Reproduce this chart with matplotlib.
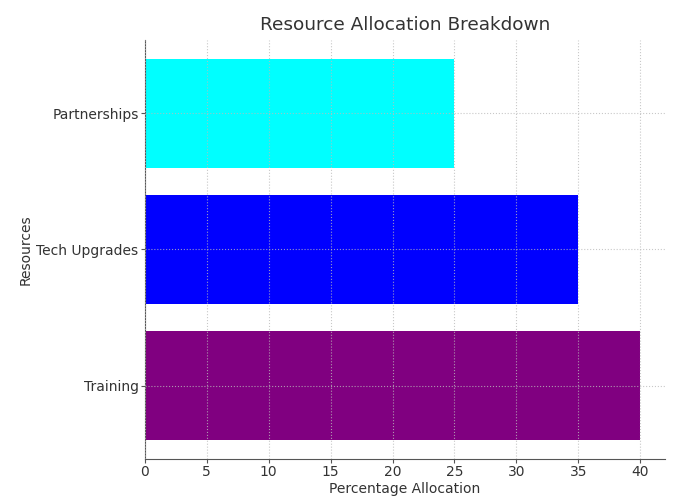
import matplotlib
matplotlib.use('Agg')
import matplotlib.pyplot as plt

resources = ['Training', 'Tech Upgrades', 'Partnerships']
allocation = [40, 35, 25]
colors = ['purple', 'blue', 'cyan']

txt = '#333333'

fig = plt.figure(figsize=(6.8, 4.98), dpi=100)
ax = fig.add_axes([0.213, 0.078, 0.765, 0.842])

ax.barh(resources, allocation, color=colors)

ax.set_title('Resource Allocation Breakdown', fontsize=13.3, color=txt, pad=7)
ax.set_xlabel('Percentage Allocation', fontsize=10, color=txt, labelpad=2)
ax.set_ylabel('Resources', fontsize=10, color=txt, labelpad=3)
ax.tick_params(labelsize=10, labelcolor=txt, colors='#555555', length=3, pad=1.5)

ax.grid(True, linestyle=':', linewidth=0.8, color='#bbbbbb', alpha=0.8)
ax.set_axisbelow(False)

for s in ['top', 'right']:
    ax.spines[s].set_visible(False)
for s in ['left', 'bottom']:
    ax.spines[s].set_color('#555555')

plt.savefig('out.png', dpi=100)
plt.close()
print('saved out.png')
